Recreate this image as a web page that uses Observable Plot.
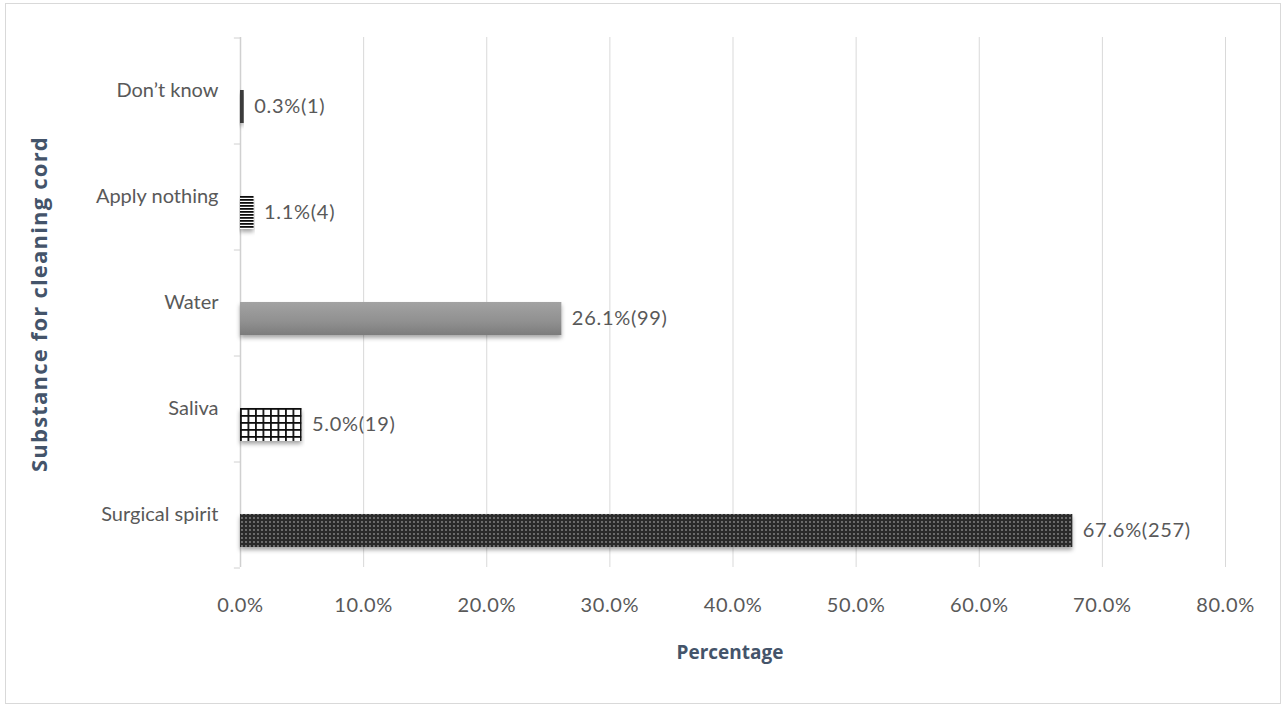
<!DOCTYPE html>
<html>
<head>
<meta charset="utf-8">
<script src="https://cdn.jsdelivr.net/npm/d3@7"></script>
<script src="https://cdn.jsdelivr.net/npm/@observablehq/plot@0.6"></script>
<style>
  html, body { margin: 0; padding: 0; background: #fff; }
  #frame { position: absolute; left: 5px; top: 3px; width: 1276px; height: 701px; border: 1px solid #d9d9d9; box-sizing: border-box; }
  #chart { position: absolute; left: 0; top: 0; }
  #ytitle { position: absolute; left: 38px; top: 304px; transform: translate(-50%, -50%) rotate(-90deg); white-space: nowrap;
    font: bold 22px "Open Sans", Lato, sans-serif; color: #44546a; letter-spacing: 1.2px; }
  #xtitle { position: absolute; left: 730px; top: 652px; transform: translate(-50%, -50%); white-space: nowrap;
    font: bold 19px "Open Sans", Lato, sans-serif; color: #44546a; }
</style>
</head>
<body>
<svg width="0" height="0" style="position:absolute">
  <defs>
    <pattern id="pDots" width="4" height="4" patternUnits="userSpaceOnUse">
      <rect width="4" height="4" fill="#2b2b2b"/>
      <ellipse cx="2" cy="2" rx="0.9" ry="1.1" fill="#8a8a8a"/>
    </pattern>
    <pattern id="pGrid" width="7.5" height="7" patternUnits="userSpaceOnUse">
      <rect width="7.5" height="7" fill="#ffffff"/>
      <rect x="0" y="0" width="1.8" height="7" fill="#111"/>
      <rect x="0" y="0" width="7.5" height="1.8" fill="#111"/>
    </pattern>
    <pattern id="pStripes" width="4" height="3" patternUnits="userSpaceOnUse">
      <rect width="4" height="3" fill="#ffffff"/>
      <rect x="0" y="0" width="4" height="1.8" fill="#111"/>
    </pattern>
    <linearGradient id="gWater" x1="0" y1="0" x2="0" y2="1">
      <stop offset="0" stop-color="#a2a2a2"/>
      <stop offset="0.6" stop-color="#909090"/>
      <stop offset="1" stop-color="#7c7c7c"/>
    </linearGradient>
    <filter id="shadow" x="-5%" y="-20%" width="110%" height="160%">
      <feDropShadow dx="0" dy="3" stdDeviation="2" flood-color="#000" flood-opacity="0.35"/>
    </filter>
  </defs>
</svg>
<div id="frame"></div>
<div id="chart"></div>
<div id="ytitle">Substance for cleaning cord</div>
<div id="xtitle">Percentage</div>
<script>
const categories = ["Don’t know", "Apply nothing", "Water", "Saliva", "Surgical spirit"];
const percents = [0.3, 1.1, 26.1, 5.0, 67.6];
const counts = [1, 4, 99, 19, 257];
const xTicks = [0, 10, 20, 30, 40, 50, 60, 70, 80];

const data = categories.map((c, i) => ({category: c, pct: percents[i], n: counts[i]}));
const fillRange = ["#3a3a3a", "url(#pStripes)", "url(#gWater)", "url(#pGrid)", "url(#pDots)"];

const barShift = 16;
const font = "Lato, 'Open Sans', sans-serif";

const chart = Plot.plot({
  width: 1287,
  height: 708,
  marginLeft: 240,
  marginRight: 62,
  marginTop: 37,
  marginBottom: 141,
  style: {fontFamily: font, fontSize: "20px", color: "#595959", background: "transparent"},
  x: {domain: [0, 80], ticks: xTicks, tickFormat: d => d.toFixed(1) + "%", label: null},
  y: {domain: categories, paddingInner: 0.69, paddingOuter: 0.345, label: null},
  color: {domain: categories, range: fillRange},
  marks: [
    Plot.gridX(xTicks, {stroke: "#d9d9d9", strokeOpacity: 1}),
    Plot.axisX({ticks: xTicks, tickFormat: d => d.toFixed(1) + "%", tickSize: 0, tickPadding: 30, fontSize: 20, fill: "#595959", label: null}),
    Plot.axisY({tickSize: 0, tickPadding: 22, fontSize: 20, fill: "#595959", label: null}),
    Plot.ruleX([0], {stroke: "#d0d0d0", strokeWidth: 1.5}),
    Plot.ruleY(categories, {y: d => d, x1: -0.5, x2: 0, dy: -53, stroke: "#d0d0d0"}),
    Plot.ruleY(categories.slice(-1), {y: d => d, x1: -0.5, x2: 0, dy: 53, stroke: "#d0d0d0"}),
    Plot.barX(data, {x: "pct", y: "category", fill: "category", dy: barShift}),
    Plot.text(data, {x: "pct", y: "category", text: d => d.pct.toFixed(1) + "%(" + d.n + ")", textAnchor: "start", dx: 10, dy: barShift, fontSize: 20, fill: "#595959"})
  ]
});
chart.querySelectorAll('g[aria-label="bar"] rect').forEach(r => r.setAttribute("filter", "url(#shadow)"));
chart.querySelectorAll('g[aria-label="text"] text').forEach(t => t.setAttribute("letter-spacing", "0.7px"));
chart.querySelectorAll('g[aria-label="x-axis tick label"] text').forEach(t => t.setAttribute("letter-spacing", "0.6px"));
document.getElementById("chart").appendChild(chart);
</script>
</body>
</html>
